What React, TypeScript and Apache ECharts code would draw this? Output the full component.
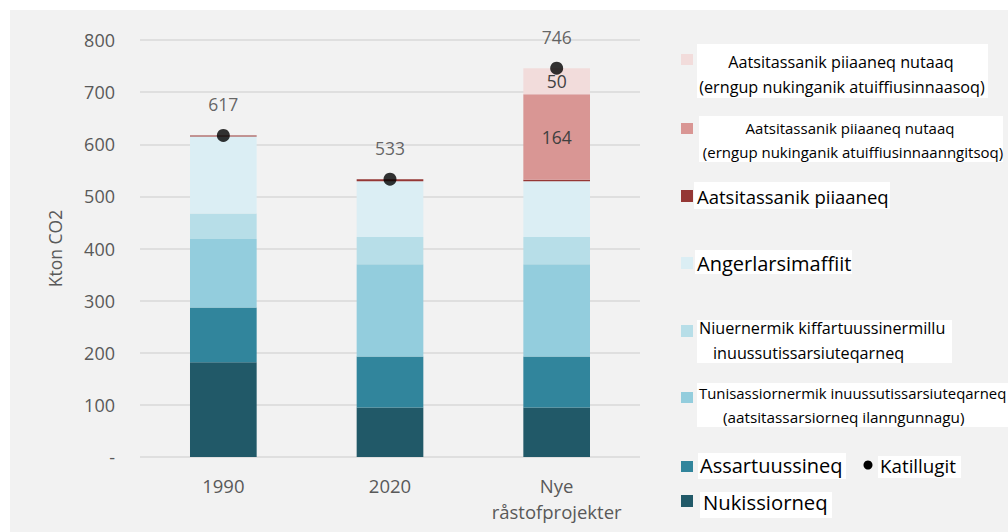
import React, { useEffect, useRef } from "react";
import * as echarts from "echarts";

const categories = ["1990", "2020", "Nye\nråstofprojekter"];
const nukissiorneq = [182, 95, 95];
const assartuussineq = [105, 98, 98];
const tunisassiornermik = [131, 177, 177];
const niuernermik = [49, 52, 52];
const angerlarsimaffiit = [148, 107, 107];
const piiaaneq = [2, 4, 3];
const nutaaqIkke = [0, 0, 164];
const nutaaqAasoq = [0, 0, 50];
const katillugit = [617, 533, 746];
const yTicks = [0, 100, 200, 300, 400, 500, 600, 700, 800];

const FONT = '"Open Sans", sans-serif';

type Seg = { name: string; data: number[]; color: string; label?: boolean };
const segments: Seg[] = [
  { name: "Nukissiorneq", data: nukissiorneq, color: "#215968" },
  { name: "Assartuussineq", data: assartuussineq, color: "#31859c" },
  { name: "Tunisassiornermik inuussutissarsiuteqarneq", data: tunisassiornermik, color: "#93cddd" },
  { name: "Niuernermik kiffartuussinermillu inuussutissarsiuteqarneq", data: niuernermik, color: "#b7dee8" },
  { name: "Angerlarsimaffiit", data: angerlarsimaffiit, color: "#dbeef4" },
  { name: "Aatsitassanik piiaaneq", data: piiaaneq, color: "#953735" },
  { name: "Aatsitassanik piiaaneq nutaaq (ikke)", data: nutaaqIkke, color: "#d99694", label: true },
  { name: "Aatsitassanik piiaaneq nutaaq (aasoq)", data: nutaaqAasoq, color: "#f2dcdb", label: true },
];

type LegText = { text: string; x: number; y: number; size: number; align?: string };
type LegItem = { color: string; sw: number[]; box: number[]; texts: LegText[] };
const legendItems: LegItem[] = [
  {
    color: "#f2dcdb", sw: [681, 54, 12, 11], box: [697, 44, 291, 54],
    texts: [
      { text: "Aatsitassanik piiaaneq nutaaq", x: 841, y: 62, size: 16.2, align: "center" },
      { text: "(erngup nukinganik atuiffiusinnaasoq)", x: 842, y: 87, size: 16.2, align: "center" },
    ],
  },
  {
    color: "#d99694", sw: [681, 123, 12, 11], box: [699, 116, 304, 46],
    texts: [
      { text: "Aatsitassanik piiaaneq nutaaq", x: 850, y: 128, size: 15, align: "center" },
      { text: "(erngup nukinganik atuiffiusinnaanngitsoq)", x: 853, y: 152, size: 15, align: "center" },
    ],
  },
  {
    color: "#953735", sw: [681, 190, 12, 12], box: [694, 182, 196, 27],
    texts: [{ text: "Aatsitassanik piiaaneq", x: 697, y: 196, size: 18.5 }],
  },
  {
    color: "#dbeef4", sw: [681, 257, 12, 12], box: [695, 250, 157, 24],
    texts: [{ text: "Angerlarsimaffiit", x: 697, y: 263, size: 20 }],
  },
  {
    color: "#b7dee8", sw: [681, 325, 12, 12], box: [697, 320, 255, 43],
    texts: [
      { text: "Niuernermik kiffartuussinermillu", x: 699, y: 328, size: 16.2 },
      { text: "inuussutissarsiuteqarneq", x: 713, y: 353, size: 16.2 },
    ],
  },
  {
    color: "#93cddd", sw: [681, 392, 12, 11], box: [697, 383, 311, 44],
    texts: [
      { text: "Tunisassiornermik inuussutissarsiuteqarneq", x: 699, y: 393, size: 14.9 },
      { text: "(aatsitassarsiorneq ilanngunnagu)", x: 723, y: 417, size: 15.3 },
    ],
  },
  {
    color: "#31859c", sw: [681, 461, 12, 11], box: [698, 453, 148, 26],
    texts: [{ text: "Assartuussineq", x: 700, y: 465, size: 20 }],
  },
  {
    color: "#215968", sw: [681, 495, 12, 12], box: [700, 492, 132, 26],
    texts: [{ text: "Nukissiorneq", x: 703, y: 502, size: 20.3 }],
  },
];

function buildGraphic() {
  const els: any[] = [
    { type: "rect", shape: { x: 0, y: 0, width: 1008, height: 10 }, style: { fill: "#ffffff" }, z: 100, silent: true },
    { type: "rect", shape: { x: 0, y: 0, width: 10, height: 532 }, style: { fill: "#ffffff" }, z: 100, silent: true },
  ];
  legendItems.forEach((it) => {
    els.push({ type: "rect", shape: { x: it.box[0], y: it.box[1], width: it.box[2], height: it.box[3] }, style: { fill: "#ffffff" }, z: 100 });
    els.push({ type: "rect", shape: { x: it.sw[0], y: it.sw[1], width: it.sw[2], height: it.sw[3] }, style: { fill: it.color }, z: 101 });
    it.texts.forEach((t) => {
      els.push({
        type: "text", x: t.x, y: t.y, z: 102,
        style: { text: t.text, fill: "#000000", fontSize: t.size, fontFamily: FONT, align: t.align || "left", verticalAlign: "middle" },
      });
    });
  });
  // Katillugit legend entry
  els.push({ type: "circle", shape: { cx: 868, cy: 465, r: 4.5 }, style: { fill: "#000000" }, z: 101 });
  els.push({ type: "rect", shape: { x: 878, y: 456, width: 83, height: 22 }, style: { fill: "#ffffff" }, z: 100 });
  els.push({
    type: "text", x: 880, y: 466, z: 102,
    style: { text: "Katillugit", fill: "#000000", fontSize: 18.8, fontFamily: FONT, align: "left", verticalAlign: "middle" },
  });
  return els;
}

export default function App() {
  const ref = useRef<HTMLDivElement>(null);
  useEffect(() => {
    if (!ref.current) return;
    const chart = echarts.init(ref.current, undefined, { renderer: "svg" });
    const barSeries = segments.map((s) => ({
      name: s.name,
      type: "bar",
      stack: "total",
      barWidth: "40%",
      data: s.data,
      itemStyle: { color: s.color },
      label: s.label
        ? {
            show: true,
            position: "inside",
            color: "#404040",
            fontSize: 17.5,
            fontFamily: FONT,
            formatter: (p: any) => (p.value ? String(p.value) : ""),
          }
        : { show: false },
    }));
    chart.setOption({
      animation: false,
      backgroundColor: "#f2f2f2",
      textStyle: { fontFamily: FONT },
      grid: { left: 140, right: 368, top: 40, bottom: 75 },
      xAxis: {
        type: "category",
        data: categories,
        axisLine: { show: false },
        axisTick: { show: false },
        axisLabel: { interval: 0, color: "#595959", fontSize: 18.5, fontFamily: FONT, margin: 15, lineHeight: 26 },
      },
      yAxis: {
        type: "value",
        min: yTicks[0],
        max: yTicks[yTicks.length - 1],
        interval: 100,
        name: "Kton CO2",
        nameLocation: "middle",
        nameGap: 76,
        nameTextStyle: { color: "#595959", fontSize: 17.5, fontFamily: FONT },
        axisLine: { show: false },
        axisTick: { show: false },
        splitLine: { lineStyle: { color: "#d9d9d9", width: 1.5 } },
        axisLabel: {
          color: "#595959",
          fontSize: 18,
          fontFamily: FONT,
          margin: 25,
          formatter: (v: number) => (v === 0 ? "-" : String(v)),
        },
      },
      series: [
        ...barSeries,
        {
          name: "Katillugit",
          type: "scatter",
          data: katillugit,
          symbol: "circle",
          symbolSize: 13,
          itemStyle: { color: "#000000" },
          z: 5,
          label: {
            show: true,
            position: "top",
            distance: 16,
            color: "#404040",
            fontSize: 17.5,
            fontFamily: FONT,
          },
        },
      ],
      graphic: buildGraphic(),
    });
    return () => chart.dispose();
  }, []);
  return (
    <div
      ref={ref}
      style={{ position: "absolute", left: 0, top: 0, width: 1008, height: 532, background: "#ffffff" }}
    />
  );
}
